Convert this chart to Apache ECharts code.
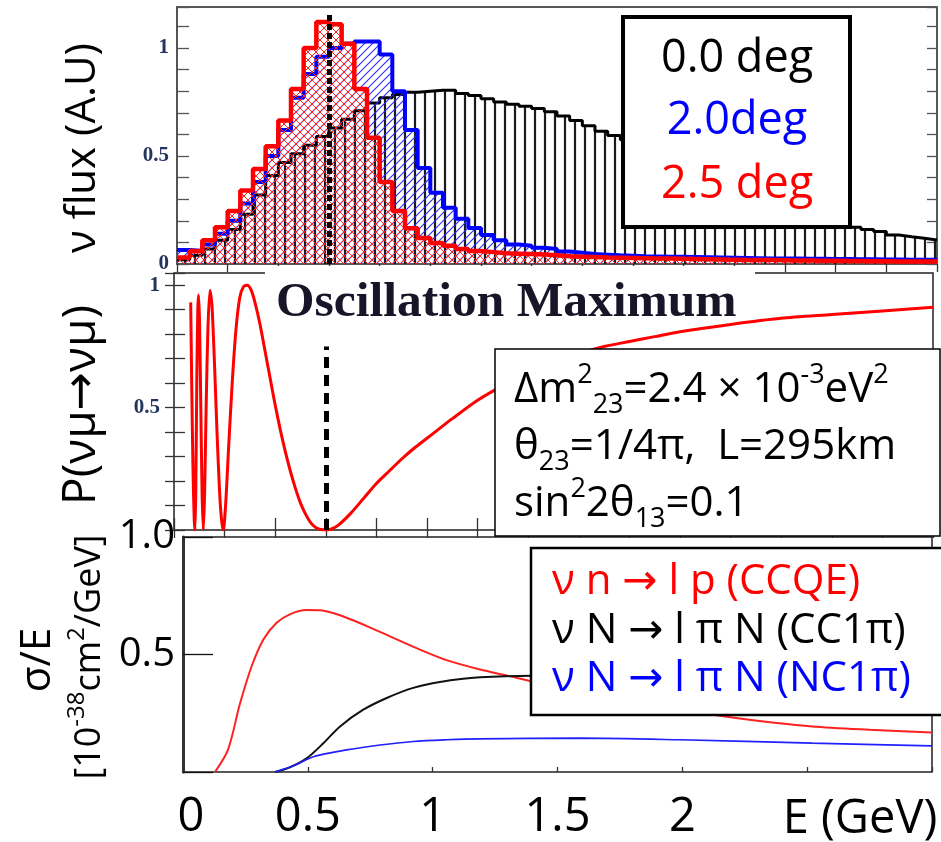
<!DOCTYPE html>
<html><head><meta charset="utf-8">
<script src="https://cdn.jsdelivr.net/npm/echarts@6/dist/echarts.min.js"></script>
<style>html,body{margin:0;padding:0;background:#fff}#c{width:941px;height:842px}</style>
</head><body><div id="c"></div><script>
// ---------- DATA ----------
// Flux histogram bin edges (GeV)
const fluxBinEdges = [0,0.05,0.1,0.15,0.2,0.25,0.3,0.35,0.4,0.45,0.5,0.55,0.6,0.65,0.7,0.75,0.8,0.85,0.9,0.95,
  1.0,1.05,1.1,1.15,1.2,1.25,1.3,1.35,1.4,1.45,1.5,1.55,1.6,1.65,1.7,1.75,1.8,1.85,1.9,1.95,
  2.0,2.05,2.1,2.15,2.2,2.25,2.3,2.35,2.4,2.45,2.5,2.55,2.6,2.65,2.7,2.75,2.8,2.85,2.9,2.95,3.0];
const flux00deg = [0.02,0.04,0.07,0.11,0.16,0.23,0.32,0.41,0.47,0.51,
  0.55,0.59,0.63,0.67,0.71,0.745,0.77,0.785,0.795,0.80,
  0.805,0.805,0.79,0.78,0.765,0.75,0.74,0.73,0.72,0.705,
  0.685,0.665,0.64,0.615,0.595,0.575,0.555,0.535,0.515,0.49,
  0.47,0.445,0.42,0.40,0.375,0.35,0.33,0.305,0.285,0.26,
  0.24,0.215,0.195,0.17,0.16,0.15,0.134,0.126,0.119,0.111];
const flux20deg = [0.065,0.06,0.09,0.14,0.2,0.28,0.38,0.5,0.62,0.77,
  0.88,0.96,1.0,1.02,1.03,1.03,0.97,0.80,0.62,0.445,
  0.33,0.26,0.21,0.167,0.134,0.11,0.09,0.085,0.075,0.07,
  0.058,0.052,0.046,0.043,0.04,0.038,0.036,0.035,0.034,0.033,
  0.032,0.031,0.03,0.029,0.028,0.027,0.026,0.025,0.025,0.024,
  0.024,0.023,0.023,0.022,0.022,0.021,0.021,0.02,0.02,0.02];
const flux25deg = [0.03,0.06,0.11,0.17,0.245,0.34,0.44,0.545,0.665,0.81,
  1.0,1.12,1.11,1.02,0.81,0.585,0.38,0.245,0.165,0.12,
  0.097,0.085,0.07,0.06,0.055,0.05,0.048,0.046,0.044,0.04,
  0.036,0.034,0.032,0.03,0.029,0.028,0.027,0.026,0.025,0.024,
  0.023,0.022,0.021,0.02,0.019,0.018,0.018,0.017,0.016,0.016,
  0.015,0.015,0.014,0.014,0.013,0.013,0.012,0.012,0.012,0.012];
const fluxLegend = ['0.0 deg','2.0deg','2.5 deg'];
const topYTickValues = [0,0.5,1];
const topYTickLabels = ['0','0.5','1'];
const oscMaxEnergy = 0.6;
const topDashTop = 1.16;

// Survival probability curve [E (GeV), P]
const survivalE = [0.066,0.070,0.075,0.080,0.083,0.086,0.090,0.094,0.097,0.101,0.106,0.111,0.116,0.121,0.127,0.134,0.142,0.150,0.160,0.170,
  0.180,0.188,0.195,0.205,0.215,0.23,0.245,0.26,0.275,0.29,0.305,0.32,0.34,0.36,0.38,0.40,0.42,0.44,0.46,0.48,
  0.50,0.52,0.54,0.56,0.58,0.6,0.62,0.65,0.70,0.75,0.80,0.85,0.90,0.95,1.0,1.05,1.1,1.2,1.3,1.4,
  1.5,1.6,1.7,1.8,1.9,2.0,2.2,2.4,2.6,2.8,3.0];
const survivalP = [0.93,0.6,0.25,0.04,0.0,0.15,0.6,0.9,0.96,0.85,0.5,0.15,0.0,0.15,0.5,0.82,0.98,0.92,0.68,0.4,
  0.16,0.04,0.0,0.12,0.32,0.6,0.82,0.95,0.995,1.0,0.98,0.93,0.84,0.73,0.62,0.51,0.41,0.32,0.24,0.17,
  0.11,0.065,0.03,0.01,0.002,0.0,0.003,0.02,0.07,0.13,0.19,0.24,0.29,0.335,0.375,0.415,0.455,0.53,0.59,0.64,
  0.68,0.72,0.75,0.77,0.79,0.81,0.84,0.865,0.88,0.895,0.91];
const midYTickValues = [0.5,1];
const midYTickLabels = ['0.5','1'];
const midDashTop = 0.75;

// Cross sections sigma/E
const ccqeE  = [0.128,0.18,0.228,0.275,0.322,0.375,0.428,0.495,0.549,0.629,0.736,0.842,0.949,1.056,1.19,1.3,1.4,1.6,1.8,2.0,2.15,2.3,2.52,2.75,3.0];
const ccqeV  = [0.0,0.094,0.29,0.45,0.564,0.635,0.671,0.689,0.688,0.667,0.621,0.571,0.521,0.476,0.436,0.41,0.385,0.34,0.30,0.265,0.239,0.218,0.194,0.18,0.168];
const cc1piE = [0.368,0.428,0.495,0.562,0.629,0.722,0.816,0.922,1.029,1.19,1.4,1.7,2.0,2.5,3.0];
const cc1piV = [0.0,0.02,0.058,0.122,0.194,0.265,0.315,0.358,0.383,0.403,0.41,0.41,0.405,0.395,0.385];
const nc1piE = [0.368,0.45,0.522,0.656,0.789,0.922,1.056,1.19,1.59,1.99,2.52,3.0];
const nc1piV = [0.0,0.03,0.065,0.094,0.115,0.13,0.137,0.141,0.144,0.137,0.123,0.111];
const xsLegend = ['ν n → l p (CCQE)','ν N → l π N (CC1π)','ν N → l π N (NC1π)'];
const botYTickValues = [0.5,1];
const botYTickLabels = ['0.5','1.0'];
const botXTickValues = [0,0.5,1,1.5,2];
const botXTickLabels = ['0','0.5','1','1.5','2'];

// ---------- STYLE HELPERS ----------
function hatch(kind, color, size, w){
  const c = document.createElement('canvas'); c.width = size; c.height = size;
  const g = c.getContext('2d'); g.strokeStyle = color; g.lineWidth = w; g.beginPath();
  if (kind === 'v') { g.moveTo(size/2, 0); g.lineTo(size/2, size); }
  if (kind === '/' || kind === 'x') { g.moveTo(-1,size+1); g.lineTo(size+1,-1); g.moveTo(-2,2); g.lineTo(2,-2); g.moveTo(size-2,size+2); g.lineTo(size+2,size-2); }
  if (kind === 'x') { g.moveTo(-1,-1); g.lineTo(size+1,size+1); g.moveTo(size-2,-2); g.lineTo(size+2,2); g.moveTo(-2,size-2); g.lineTo(2,size+2); }
  g.stroke(); return c;
}
const patBlack = {image: hatch('v', '#1a1a1a', 10, 2.2), repeat: 'repeat'};
const patBlue  = {image: hatch('/', '#2a2aff', 8, 1.1), repeat: 'repeat'};
const patRed   = {image: hatch('x', '#ff2020', 8, 1), repeat: 'repeat'};
const SANS = "'Open Sans','Noto Sans','DejaVu Sans',sans-serif";
const SERIF = "'Liberation Serif','DejaVu Serif',serif";
function pick(values, labels){ return v => { const k = values.findIndex(t => Math.abs(t - v) < 1e-6); return k >= 0 ? labels[k] : ''; }; }
function hist(vals){ return fluxBinEdges.map((e, i) => [e, vals[Math.min(i, vals.length - 1)]]); }
function pairs(xs, ys){ return xs.map((x, i) => [x, ys[i]]); }

const tickIn = (len, color) => ({show: true, inside: true, length: len, lineStyle: {color: color || '#333', width: 1.3}});
const noLabel = {show: false};
const off = {show: false};

const chart = echarts.init(document.getElementById('c'), null, {renderer: 'canvas'});
chart.setOption({
  animation: false,
  backgroundColor: '#fff',
  grid: [
    {left: 177, top: 7, width: 760, height: 257, show: true, borderColor: '#222', borderWidth: 1.5},
    {left: 174, top: 273, width: 759, height: 257, show: true, borderColor: '#222', borderWidth: 1.5},
    {left: 183, top: 537, width: 749, height: 235, show: true, borderColor: '#222', borderWidth: 1.5}
  ],
  xAxis: [
    {gridIndex: 0, type: 'value', min: 0, max: 3, interval: 0.2, position: 'top', axisLine: off, axisTick: tickIn(8), axisLabel: noLabel, splitLine: off},
    {gridIndex: 1, type: 'value', min: 0, max: 3, interval: 0.2, position: 'bottom', axisLine: off, axisTick: tickIn(12), axisLabel: noLabel, splitLine: off},
    {gridIndex: 1, type: 'value', min: 0, max: 3, interval: 0.2, position: 'top', axisLine: off, axisTick: tickIn(8), axisLabel: noLabel, splitLine: off},
    {gridIndex: 2, type: 'value', min: 0, max: 3, interval: 0.5, position: 'bottom', axisLine: off, axisTick: tickIn(5),
      axisLabel: {show: true, margin: 22, fontFamily: SANS, fontSize: 47, color: '#000', formatter: v => { const s = pick(botXTickValues, botXTickLabels)(v); return v === 0 ? '{z|' + s + '}' : s; },
        rich: {z: {fontFamily: SANS, fontSize: 47, color: '#000', padding: [0, 0, 0, 16]}}}, splitLine: off}
  ],
  yAxis: [
    {gridIndex: 0, type: 'value', min: 0, max: 1.19, interval: 0.1, position: 'left', axisLine: {show: true, lineStyle: {color: '#555', width: 2}}, axisTick: tickIn(12, '#555'),
      axisLabel: {show: true, margin: 8, fontFamily: SERIF, fontWeight: 'bold', fontSize: 21, color: '#23355e', formatter: pick(topYTickValues, topYTickLabels)}, splitLine: off},
    {gridIndex: 0, type: 'value', min: 0, max: 1.19, interval: 0.1, position: 'right', axisLine: off, axisTick: tickIn(10, '#555'), axisLabel: noLabel, splitLine: off},
    {gridIndex: 1, type: 'value', min: 0, max: 1.05, interval: 0.1, position: 'left', axisLine: off, axisTick: tickIn(11),
      axisLabel: {show: true, margin: 14, fontFamily: SERIF, fontWeight: 'bold', fontSize: 21, color: '#23355e', formatter: pick(midYTickValues, midYTickLabels)}, splitLine: off},
    {gridIndex: 1, type: 'value', min: 0, max: 1.05, interval: 0.1, position: 'right', axisLine: off, axisTick: tickIn(9), axisLabel: noLabel, splitLine: off},
    {gridIndex: 2, type: 'value', min: 0, max: 1, interval: 0.5, position: 'left', axisLine: {show: true, lineStyle: {color: '#333', width: 3}}, axisTick: tickIn(30, '#111'),
      axisLabel: {show: true, margin: 8, fontFamily: SANS, fontSize: 40, color: '#000', formatter: pick(botYTickValues, botYTickLabels)}, splitLine: off}
  ],
  series: [
    {type: 'line', xAxisIndex: 0, yAxisIndex: 0, step: 'end', data: hist(flux00deg), symbol: 'none', lineStyle: {color: '#000', width: 3}, areaStyle: {color: patBlack, opacity: 1}, z: 2},
    {type: 'line', xAxisIndex: 0, yAxisIndex: 0, step: 'end', data: hist(flux20deg), symbol: 'none', lineStyle: {color: '#0000ff', width: 4}, areaStyle: {color: patBlue, opacity: 1}, z: 3},
    {type: 'line', xAxisIndex: 0, yAxisIndex: 0, step: 'end', data: hist(flux25deg), symbol: 'none', lineStyle: {color: '#ff0000', width: 4.5}, areaStyle: {color: patRed, opacity: 1}, z: 4},
    {type: 'line', xAxisIndex: 0, yAxisIndex: 0, data: [], z: 5,
      markLine: {silent: true, symbol: ['none', 'none'], label: {show: false}, lineStyle: {color: '#000', width: 5, type: [6, 3]},
        data: [[{coord: [oscMaxEnergy, 0]}, {coord: [oscMaxEnergy, topDashTop]}]]}},
    {type: 'line', xAxisIndex: 1, yAxisIndex: 2, data: pairs(survivalE, survivalP), smooth: 0.25, symbol: 'none', lineStyle: {color: '#ff0000', width: 3}, z: 3,
      markLine: {silent: true, symbol: ['none', 'none'], label: {show: false}, lineStyle: {color: '#000', width: 5, type: [11, 7]},
        data: [[{coord: [oscMaxEnergy, 0]}, {coord: [oscMaxEnergy, midDashTop]}]]}},
    {type: 'line', xAxisIndex: 3, yAxisIndex: 4, data: pairs(ccqeE, ccqeV), smooth: 0.3, symbol: 'none', lineStyle: {color: '#ff2020', width: 2}, z: 3},
    {type: 'line', xAxisIndex: 3, yAxisIndex: 4, data: pairs(cc1piE, cc1piV), smooth: 0.3, symbol: 'none', lineStyle: {color: '#111', width: 2}, z: 3},
    {type: 'line', xAxisIndex: 3, yAxisIndex: 4, data: pairs(nc1piE, nc1piV), smooth: 0.3, symbol: 'none', lineStyle: {color: '#2020ff', width: 1.6}, z: 3}
  ],
  graphic: [
    // mask behind "Oscillation Maximum"
    {type: 'rect', z: 50, shape: {x: 265, y: 266, width: 490, height: 18}, style: {fill: '#fff'}},
    {type: 'text', z: 51, x: 276, y: 303, style: {text: 'Oscillation Maximum', fontFamily: SERIF, fontWeight: 'bold', fontSize: 49.5, fill: '#161628', align: 'left', verticalAlign: 'middle'}},
    // top legend
    {type: 'rect', z: 50, shape: {x: 623, y: 17, width: 227, height: 210}, style: {fill: '#fff', stroke: '#000', lineWidth: 4}},
    {type: 'text', z: 51, x: 737, y: 59, style: {text: fluxLegend[0], fontFamily: SANS, fontSize: 45, fill: '#000', align: 'center', verticalAlign: 'middle'}},
    {type: 'text', z: 51, x: 737, y: 121, style: {text: fluxLegend[1], fontFamily: SANS, fontSize: 45, fill: '#0000ff', align: 'center', verticalAlign: 'middle'}},
    {type: 'text', z: 51, x: 737, y: 185, style: {text: fluxLegend[2], fontFamily: SANS, fontSize: 45, fill: '#ff0000', align: 'center', verticalAlign: 'middle'}},
    // parameter box
    {type: 'rect', z: 50, shape: {x: 495, y: 349, width: 445, height: 187}, style: {fill: '#fff', stroke: '#000', lineWidth: 1.5}},
    {type: 'text', z: 51, x: 514, y: 362, style: {
      text: 'Δm{sup|2}{sub|23}=2.4 × 10{sup|-3}eV{sup|2}\nθ{sub|23}=1/4π,  L=295km\nsin{sup|2}2θ{sub|13}=0.1',
      fontFamily: SANS, fontSize: 42, lineHeight: 57, fill: '#000', align: 'left', verticalAlign: 'top',
      rich: {sup: {fontFamily: SANS, fontSize: 27, lineHeight: 42, verticalAlign: 'top', fill: '#000'},
             sub: {fontFamily: SANS, fontSize: 27, lineHeight: 23, verticalAlign: 'bottom', fill: '#000'}}}},
    // bottom legend
    {type: 'rect', z: 50, shape: {x: 531, y: 548, width: 412, height: 167}, style: {fill: '#fff', stroke: '#000', lineWidth: 2.5}},
    {type: 'text', z: 51, x: 552, y: 582, style: {text: xsLegend[0], fontFamily: SANS, fontSize: 42, fill: '#ff0000', align: 'left', verticalAlign: 'middle'}},
    {type: 'text', z: 51, x: 552, y: 631, style: {text: xsLegend[1], fontFamily: SANS, fontSize: 42, fill: '#000', align: 'left', verticalAlign: 'middle'}},
    {type: 'text', z: 51, x: 552, y: 679, style: {text: xsLegend[2], fontFamily: SANS, fontSize: 42, fill: '#0000ff', align: 'left', verticalAlign: 'middle'}},
    // axis titles
    {type: 'text', z: 51, x: 83, y: 148, rotation: Math.PI / 2, style: {text: 'ν flux (A.U)', fontFamily: SANS, fontSize: 42, fill: '#000', align: 'center', verticalAlign: 'middle'}},
    {type: 'text', z: 51, x: 82, y: 405, rotation: Math.PI / 2, style: {text: 'P(νμ→νμ)', fontFamily: SANS, fontSize: 46, fill: '#000', align: 'center', verticalAlign: 'middle'}},
    {type: 'text', z: 51, x: 38, y: 660, rotation: Math.PI / 2, style: {text: 'σ/E', fontFamily: SANS, fontSize: 42, fill: '#000', align: 'center', verticalAlign: 'middle'}},
    {type: 'text', z: 51, x: 90, y: 657, rotation: Math.PI / 2, style: {text: '[10{sup|-38}cm{sup|2}/GeV]', fontFamily: SANS, fontSize: 36, lineHeight: 50, fill: '#000', align: 'center', verticalAlign: 'middle',
      rich: {sup: {fontFamily: SANS, fontSize: 24, lineHeight: 34, verticalAlign: 'top', fill: '#000'}}}},
    {type: 'text', z: 51, x: 860, y: 820, style: {text: 'E (GeV)', fontFamily: SANS, fontSize: 47, fill: '#000', align: 'center', verticalAlign: 'middle'}}
  ]
});
</script></body></html>
